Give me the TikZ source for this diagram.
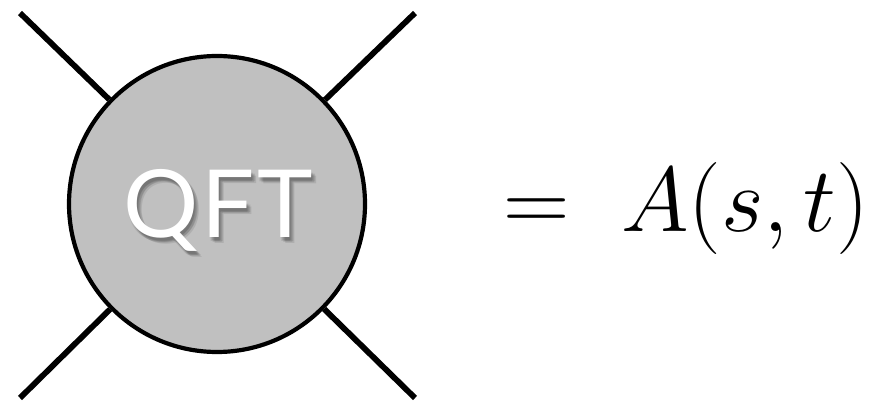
\documentclass[tikz,border=0pt]{standalone}
\usepackage{fontspec}
\usepackage{tikz}
\usetikzlibrary{positioning}
\newfontfamily\qftfont[LetterSpace=3]{Lato}
\definecolor{blobGray}{RGB}{192,192,192}

\tikzset{
  leg/.style={line width=2.9pt},
  blob/.style={circle, draw, line width=2.1pt, fill=blobGray, minimum size=148pt, inner sep=0pt},
  qftlabel/.style={font=\qftfont\fontsize{47}{50}\selectfont, text=white, anchor=base, inner sep=0pt},
}

\begin{document}
\begin{tikzpicture}[x=0.5pt, y=-0.5pt]
  \useasboundingbox (0,0) rectangle (889,406);

  \node[blob] (qft) at (217,204) {};
  \coordinate (tl) at (20,13);
  \coordinate (tr) at (415,13);
  \coordinate (bl) at (20,398);
  \coordinate (br) at (415,398);
  \draw[leg] (tl) -- (qft);
  \draw[leg] (tr) -- (qft);
  \draw[leg] (bl) -- (qft);
  \draw[leg] (br) -- (qft);

  % soft shadow under the label
  \foreach \dx/\dy [count=\i] in {2/3,4/4,3/5,5/6,1/4} {
    \node[qftlabel, text=black, opacity=0.09] (qftshadow\i) at (218+\dx,238+\dy) {QFT};
  }
  \node[qftlabel] (qftlabel) at (218,238) {QFT};

  \node[anchor=base west, inner sep=0pt, scale=1.85] (amp) at (503,232) {\Huge $=\;A(s,t)$};
\end{tikzpicture}
\end{document}
